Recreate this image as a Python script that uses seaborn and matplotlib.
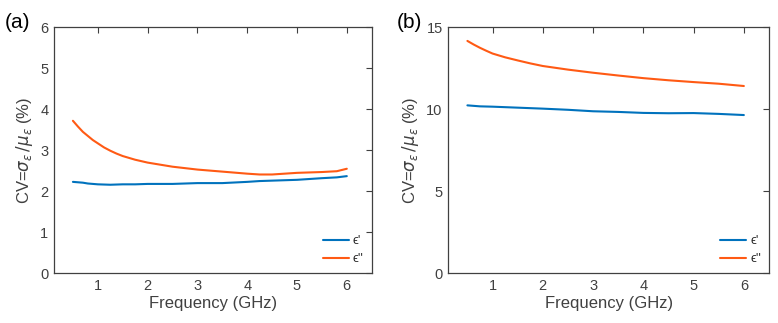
import numpy as np
import pandas as pd
import matplotlib
matplotlib.use("Agg")
import matplotlib.pyplot as plt
import seaborn as sns

# Panel (a) data
freq_a = [0.5, 0.6, 0.7, 0.8, 0.9, 1.0, 1.125, 1.25, 1.375, 1.5, 1.75, 2.0, 2.25, 2.5, 3.0, 3.5, 4.0, 4.25, 4.5, 5.0, 5.5, 5.8, 6.0]
eps1_a = [2.23, 2.22, 2.21, 2.19, 2.18, 2.17, 2.165, 2.16, 2.165, 2.17, 2.17, 2.18, 2.18, 2.18, 2.20, 2.20, 2.23, 2.25, 2.26, 2.28, 2.32, 2.34, 2.37]
eps2_a = [3.72, 3.58, 3.45, 3.35, 3.25, 3.17, 3.07, 2.99, 2.92, 2.86, 2.77, 2.70, 2.65, 2.60, 2.53, 2.48, 2.43, 2.41, 2.41, 2.45, 2.47, 2.49, 2.55]

# Panel (b) data
freq_b = [0.5, 0.625, 0.75, 0.875, 1.0, 1.25, 1.5, 1.75, 2.0, 2.5, 3.0, 3.5, 4.0, 4.5, 5.0, 5.5, 6.0]
eps1_b = [10.24, 10.21, 10.18, 10.17, 10.16, 10.13, 10.10, 10.07, 10.04, 9.97, 9.88, 9.84, 9.78, 9.76, 9.77, 9.72, 9.65]
eps2_b = [14.17, 13.95, 13.75, 13.57, 13.40, 13.17, 12.98, 12.80, 12.64, 12.42, 12.23, 12.06, 11.90, 11.77, 11.66, 11.56, 11.42]

series_labels = ["ϵ'", "ϵ''"]
xticks = [1, 2, 3, 4, 5, 6]
yticks_a = [0, 1, 2, 3, 4, 5, 6]
yticks_b = [0, 5, 10, 15]

sns.set_theme(style="white")
plt.rcParams['font.family'] = ['Liberation Sans', 'DejaVu Sans']
plt.rcParams['mathtext.fontset'] = 'dejavusans'

colors = ["#0072BD", "#FF5A14"]
axcol = "#404040"

fig = plt.figure(figsize=(7.78, 3.23), dpi=100)
ax_a = fig.add_axes([54/778, 1-273.3/323, (371.7-54)/778, (273.3-27.3)/323])
ax_b = fig.add_axes([448.3/778, 1-273.3/323, (769-448.3)/778, (273.3-27.3)/323])

def make_df(f, e1, e2):
    return pd.concat([
        pd.DataFrame({"freq": f, "cv": e1, "s": series_labels[0]}),
        pd.DataFrame({"freq": f, "cv": e2, "s": series_labels[1]}),
    ])

panels = [
    (ax_a, make_df(freq_a, eps1_a, eps2_a), yticks_a, "(a)", 5),
    (ax_b, make_df(freq_b, eps1_b, eps2_b), yticks_b, "(b)", 397),
]

for ax, df, yt, lab, lx in panels:
    sns.lineplot(data=df, x="freq", y="cv", hue="s", palette=colors, ax=ax,
                 linewidth=1.5, estimator=None, sort=False)
    ax.set_xlim(0.12, 6.5)
    ax.set_ylim(yt[0], yt[-1])
    ax.set_xticks(xticks)
    ax.set_yticks(yt)
    ax.tick_params(direction='in', length=4, width=0.8, colors=axcol,
                   labelsize=10.5, top=True, right=True, labelcolor=axcol, pad=4)
    for sp in ax.spines.values():
        sp.set_color(axcol)
        sp.set_linewidth(0.9)
    ax.set_xlabel("Frequency (GHz)", fontsize=12, color=axcol, labelpad=2)
    ax.set_ylabel(r"CV=$\sigma_{\epsilon}\,/\mu_{\epsilon}$ (%)", fontsize=12, color=axcol, labelpad=4)
    leg = ax.legend(loc='lower right', frameon=False, fontsize=9.5, handlelength=2.0,
                    handletextpad=0.3, labelspacing=0.45, borderaxespad=0.2)
    leg.set_title(None)
    fig.text(lx/778, 1-22/323, lab, fontsize=15, color="black", ha='left', va='center')

fig.savefig("out.png", dpi=100)
